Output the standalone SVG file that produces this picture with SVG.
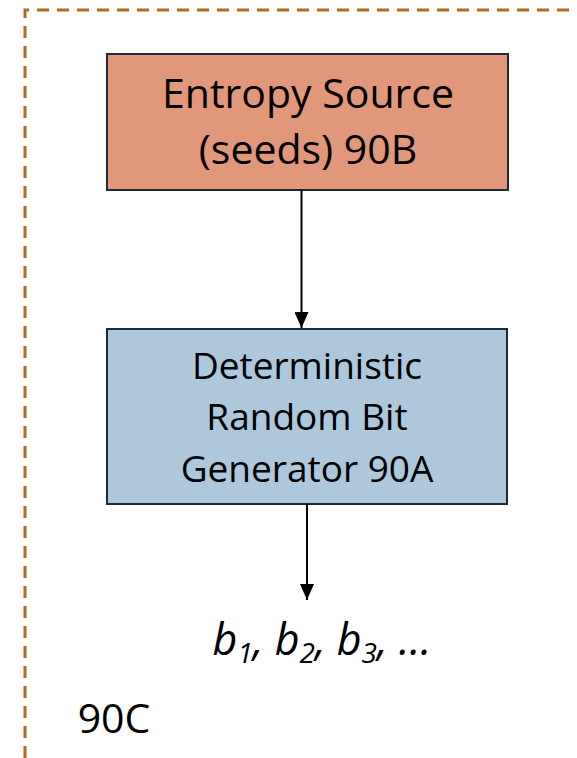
<svg xmlns="http://www.w3.org/2000/svg" width="577" height="758" viewBox="0 0 577 758">
  <style>
    .txt { font-family: "Open Sans", "Noto Sans", "Liberation Sans", sans-serif; fill: #000; text-anchor: middle; }
    .box { stroke: #1f2a36; stroke-width: 2; }
    .edge { stroke: #000; stroke-width: 2; fill: none; }
    .frame { stroke: #b4691e; stroke-width: 3; fill: none; stroke-dasharray: 12 8; }
  </style>
  <defs>
    <marker id="arrow" viewBox="0 0 16 14" refX="16" refY="7" markerWidth="16" markerHeight="14" markerUnits="userSpaceOnUse" orient="auto">
      <path d="M0,0 L16,7 L0,14 Z" fill="#000"/>
    </marker>
  </defs>
  <rect width="577" height="758" fill="#fff"/>

  <!-- dashed enclosure 90C -->
  <g id="enclosure">
    <path class="frame" d="M25,758 L25,10 L577,10"/>
    <text class="txt" x="114" y="733" font-size="41">90C</text>
  </g>

  <g id="entropy-source">
    <rect class="box" x="107" y="54" width="401" height="136" fill="#e0977a"/>
    <text class="txt" x="308" y="108" font-size="41">Entropy Source</text>
    <text class="txt" x="308" y="164" font-size="41">(seeds) 90B</text>
  </g>

  <g id="drbg">
    <rect class="box" x="107" y="329" width="400" height="175" fill="#adc8dd"/>
    <text class="txt" x="307" y="379" font-size="37">Deterministic</text>
    <text class="txt" x="307" y="430" font-size="37">Random Bit</text>
    <text class="txt" x="307" y="482" font-size="37">Generator 90A</text>
  </g>

  <g id="output-bits">
    <text class="txt" x="322" y="655" font-size="43" font-style="italic">b<tspan font-size="28" dy="8">1</tspan><tspan dy="-8">, b</tspan><tspan font-size="28" dy="8">2</tspan><tspan dy="-8">, b</tspan><tspan font-size="28" dy="8">3</tspan><tspan dy="-8">, …</tspan></text>
  </g>

  <g id="connectors">
    <line class="edge" x1="301.5" y1="190" x2="301.5" y2="328" marker-end="url(#arrow)"/>
    <line class="edge" x1="307" y1="504" x2="307" y2="600" marker-end="url(#arrow)"/>
  </g>
</svg>
